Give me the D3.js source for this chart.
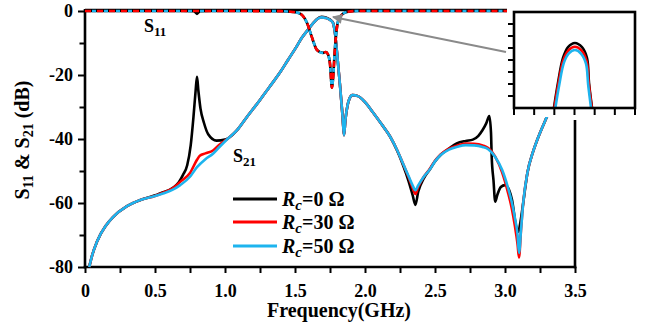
<!DOCTYPE html>
<html><head><meta charset="utf-8">
<script src="https://cdn.jsdelivr.net/npm/d3@7"></script>
<style>
html,body{margin:0;padding:0;background:#fff;}
svg{display:block;font-family:"Liberation Serif","Times New Roman",serif;font-weight:bold;}
</style></head><body>
<svg id="c" width="645" height="322" font-family="Liberation Serif, serif"></svg>
<script>
// ---------- data ----------
const xTickValues = [0, 0.5, 1.0, 1.5, 2.0, 2.5, 3.0, 3.5];
const xTickLabels = ["0", "0.5", "1.0", "1.5", "2.0", "2.5", "3.0", "3.5"];
const xMinorTicks = [0.25, 0.75, 1.25, 1.75, 2.25, 2.75, 3.25];
const yTickValues = [0, -20, -40, -60, -80];
const yTickLabels = ["0", "-20", "-40", "-60", "-80"];
const yMinorTicks = [-10, -30, -50, -70];
const legendValues = ["0", "30", "50"];
const seriesColors = ["#000000", "#ff0000", "#1db4ee"];

// S21 (dB) vs frequency (GHz)
const s21_Rc50 = [[0.03,-80],[0.05,-76.5],[0.086,-72],[0.15,-67],[0.2,-64.4],[0.3,-61],[0.4,-59],[0.5,-57.8],[0.557,-57],[0.62,-56],[0.68,-54.4],[0.75,-51.8],[0.8,-48.8],[0.86,-46.3],[0.914,-44.6],[0.96,-42.5],[1.01,-40.3],[1.086,-37.2],[1.15,-33.5],[1.25,-27.8],[1.32,-23.6],[1.39,-19.4],[1.45,-15.3],[1.51,-11.2],[1.55,-8.3],[1.59,-6],[1.63,-3.8],[1.66,-2.5],[1.69,-2.0],[1.72,-2.2],[1.75,-2.8],[1.77,-3.6],[1.786,-7],[1.8,-13],[1.82,-22.5],[1.84,-33],[1.85,-38.8],[1.86,-34],[1.875,-29.5],[1.89,-27.3],[1.91,-26.3],[1.95,-26.6],[2.0,-28.5],[2.06,-31.9],[2.12,-35.5],[2.18,-39.3],[2.23,-43.5],[2.27,-47.5],[2.31,-51.5],[2.34,-54.5],[2.36,-56],[2.38,-54.5],[2.42,-51.8],[2.46,-49.7],[2.5,-47],[2.54,-45],[2.6,-43.3],[2.66,-42.4],[2.72,-41.9],[2.78,-42],[2.84,-42.5],[2.88,-43.2],[2.93,-45.6],[2.98,-49.7],[3.02,-55],[3.05,-60],[3.07,-64.5],[3.09,-70],[3.1,-75.6],[3.115,-68],[3.13,-60],[3.16,-50.6],[3.2,-44],[3.23,-40.3],[3.3,-33],[3.36,-26.9],[3.42,-21],[3.5,-15]];
const s21_Rc30 = [[0.03,-80],[0.05,-76.5],[0.086,-72],[0.15,-67],[0.2,-64.4],[0.3,-61],[0.4,-59],[0.5,-57.8],[0.557,-56.8],[0.62,-55.6],[0.68,-53.4],[0.75,-50.6],[0.8,-46.5],[0.82,-45.2],[0.86,-44.5],[0.914,-43.6],[0.96,-41.8],[1.01,-40.2],[1.086,-37.2],[1.15,-33.5],[1.25,-27.8],[1.32,-23.6],[1.39,-19.4],[1.45,-15.3],[1.51,-11.2],[1.55,-8.3],[1.59,-6],[1.63,-3.8],[1.66,-2.5],[1.69,-2.0],[1.72,-2.2],[1.75,-2.8],[1.77,-3.6],[1.786,-7],[1.8,-13],[1.82,-22.5],[1.84,-33],[1.85,-38.8],[1.86,-34],[1.875,-29.5],[1.89,-27.3],[1.91,-26.3],[1.95,-26.6],[2.0,-28.5],[2.06,-31.9],[2.12,-35.5],[2.18,-39.3],[2.23,-43.5],[2.27,-47.5],[2.31,-51.8],[2.34,-55.2],[2.36,-57.2],[2.38,-55],[2.42,-51.8],[2.46,-49.5],[2.5,-46.8],[2.54,-44.8],[2.6,-43],[2.66,-42],[2.72,-41.4],[2.78,-41.5],[2.84,-42],[2.88,-42.8],[2.93,-45.5],[2.98,-50.5],[3.02,-56.5],[3.05,-62],[3.07,-67],[3.09,-73],[3.1,-77],[3.115,-68],[3.13,-60],[3.16,-50.6],[3.2,-44],[3.23,-40.3],[3.3,-33],[3.36,-26.9],[3.42,-21],[3.5,-15]];
const s21_Rc0 = [[0.03,-80],[0.05,-76.5],[0.086,-72],[0.15,-67],[0.2,-64.4],[0.3,-61],[0.4,-59],[0.5,-57.6],[0.557,-56.6],[0.6,-56],[0.63,-55.2],[0.67,-53.5],[0.7,-51.2],[0.73,-48.2],[0.755,-42],[0.775,-33],[0.79,-25],[0.8,-20.6],[0.81,-25],[0.825,-30.5],[0.85,-35],[0.88,-38.5],[0.94,-40.5],[1.0,-40.2],[1.05,-38.8],[1.086,-37.2],[1.15,-33.5],[1.25,-27.8],[1.32,-23.6],[1.39,-19.4],[1.45,-15.3],[1.51,-11.2],[1.55,-8.3],[1.59,-6],[1.63,-3.8],[1.66,-2.4],[1.69,-1.8],[1.72,-2.0],[1.75,-2.7],[1.77,-3.5],[1.786,-7],[1.8,-13],[1.82,-22.5],[1.84,-33],[1.85,-38.8],[1.86,-34],[1.875,-29.5],[1.89,-27.3],[1.91,-26.3],[1.95,-26.6],[2.0,-28.5],[2.06,-31.9],[2.12,-35.5],[2.18,-39.3],[2.23,-43.7],[2.27,-48],[2.31,-53],[2.34,-57.5],[2.36,-60.6],[2.38,-56.5],[2.42,-52.3],[2.46,-49.7],[2.5,-47],[2.54,-45],[2.6,-43],[2.655,-41.4],[2.72,-40.6],[2.77,-40.2],[2.81,-39],[2.84,-37.2],[2.865,-35.2],[2.888,-32.8],[2.9,-38],[2.905,-45.5],[2.918,-53],[2.93,-59.6],[2.945,-57.5],[2.97,-55],[3.0,-54.4],[3.03,-56],[3.05,-59],[3.08,-67.4],[3.095,-69],[3.11,-66],[3.13,-60],[3.16,-50.6],[3.2,-44],[3.23,-40.3],[3.3,-33],[3.36,-26.9],[3.42,-21],[3.5,-15]];

// S11 (dB) vs frequency (GHz)
const s11_Rc0 = [[0,0],[0.7,0],[0.78,-0.1],[0.8,-0.9],[0.82,-0.1],[0.9,0],[1.4,-0.05],[1.486,-0.3],[1.536,-0.8],[1.586,-3.75],[1.62,-8.1],[1.657,-12.2],[1.7,-13.1],[1.72,-12.8],[1.736,-13.6],[1.75,-16.5],[1.764,-24],[1.771,-21.5],[1.786,-11.25],[1.8,-5],[1.82,-1.9],[1.87,-0.3],[1.95,0],[3.5,0]];
const s11_Rc30 = [[0,0],[0.7,0],[1.4,-0.05],[1.486,-0.3],[1.536,-0.8],[1.586,-3.75],[1.62,-8.1],[1.657,-12.2],[1.7,-13.1],[1.72,-12.8],[1.736,-13.6],[1.75,-16.5],[1.764,-24],[1.771,-21.5],[1.786,-11.25],[1.8,-5],[1.82,-1.9],[1.87,-0.3],[1.95,0],[3.5,0]];
const s11_Rc50 = [[0,0],[0.7,0],[1.4,-0.05],[1.486,-0.3],[1.536,-0.8],[1.586,-3.75],[1.62,-8.1],[1.657,-12.2],[1.7,-13.1],[1.72,-12.8],[1.736,-13.6],[1.75,-16.5],[1.764,-24],[1.771,-21.5],[1.786,-11.25],[1.8,-5],[1.82,-1.9],[1.87,-0.3],[1.95,0],[3.5,0]];

// inset: zoom of S21 passband top (arbitrary units, 6 x-divisions, 8 y-divisions)
const insetTicksX = [0,1,2,3,4,5,6];
const insetTicksY = [1,2,3,4,5,6,7];
const inset_Rc0  = [[1.98,0],[2.18,2.08],[2.43,4.17],[2.68,5.08],[3.02,5.42],[3.37,5.08],[3.62,4.17],[3.72,2.08],[3.87,0]];
const inset_Rc30 = [[2.0,0],[2.2,2.0],[2.45,4.0],[2.7,4.8],[3.02,5.1],[3.35,4.78],[3.6,3.9],[3.71,2.0],[3.86,0]];
const inset_Rc50 = [[2.05,0],[2.24,1.9],[2.48,3.8],[2.72,4.55],[3.02,4.83],[3.33,4.52],[3.57,3.7],[3.68,1.9],[3.82,0]];

// ---------- drawing ----------
const FONT = "Liberation Serif, Times New Roman, serif";
const svg = d3.select("#c");
const x = d3.scaleLinear().domain([0, 3.5]).range([85, 575]);
const y = d3.scaleLinear().domain([-80, 0]).range([267, 11]);
const AX = 2.6;

// axes
const xAxis = d3.axisBottom(x).tickValues([...xTickValues, ...xMinorTicks].sort((a,b)=>a-b))
  .tickSize(6).tickSizeOuter(0)
  .tickFormat(d => { const i = xTickValues.indexOf(d); return i >= 0 ? xTickLabels[i] : ""; });
const gx = svg.append("g").attr("transform", `translate(0,${y(-80)})`).call(xAxis).attr("font-family", FONT);
gx.select(".domain").attr("stroke-width", AX).attr("d", `M${x(0)-1.3},0H${x(3.5)+1.3}`);
gx.selectAll(".tick line").attr("stroke-width", 2);
gx.selectAll(".tick text").attr("font-size", 18).attr("font-family", FONT)
  .attr("font-weight", "bold").attr("fill", "#000").attr("y", 17).attr("dy", "0.71em");

const yAxis = d3.axisLeft(y).tickValues([...yTickValues, ...yMinorTicks])
  .tickSize(7).tickSizeOuter(0)
  .tickFormat(d => { const i = yTickValues.indexOf(d); return i >= 0 ? yTickLabels[i] : ""; });
const gy = svg.append("g").attr("transform", `translate(${x(0)},0)`).call(yAxis).attr("font-family", FONT);
gy.select(".domain").attr("stroke-width", AX).attr("d", `M0,${y(0)-2}V${y(-80)+1.3}`);
gy.selectAll(".tick line").attr("stroke-width", 2);
gy.selectAll(".tick").filter(d => yMinorTicks.includes(d)).select("line").attr("x2", -5.5);
gy.selectAll(".tick text").attr("font-size", 18).attr("font-family", FONT)
  .attr("font-weight", "bold").attr("fill", "#000").attr("x", -12);

// top frame line and right frame line
svg.append("line").attr("x1", x(0)).attr("x2", x(3.5)).attr("y1", y(0)-1).attr("y2", y(0)-1)
  .attr("stroke", "#000").attr("stroke-width", AX);

// curves
const line = d3.line().x(d => x(d[0])).y(d => y(d[1])).curve(d3.curveMonotoneX);
const s21 = [s21_Rc0, s21_Rc30, s21_Rc50];
s21.forEach((s, i) => {
  svg.append("path").attr("d", line(s)).attr("fill", "none")
    .attr("stroke", seriesColors[i]).attr("stroke-width", 2.6).attr("stroke-linejoin", "round");
});
// S11: black solid, red and blue dashed on top
svg.append("path").attr("d", line(s11_Rc0)).attr("fill", "none").attr("stroke", seriesColors[0]).attr("stroke-width", 2.6);
svg.append("path").attr("d", line(s11_Rc30)).attr("fill", "none").attr("stroke", seriesColors[1])
  .attr("stroke-width", 2.6).attr("stroke-dasharray", "6 6");
svg.append("path").attr("d", line(s11_Rc50)).attr("fill", "none").attr("stroke", seriesColors[2])
  .attr("stroke-width", 2.6).attr("stroke-dasharray", "4 8").attr("stroke-dashoffset", -7);

// labels S11 / S21
function sLabel(tx, ty, sub) {
  const t = svg.append("text").attr("x", tx).attr("y", ty).attr("font-size", 18).attr("fill", "#000").attr("font-family", FONT);
  t.append("tspan").text("S");
  t.append("tspan").attr("font-size", 13).attr("dy", 4).text(sub);
}
sLabel(144, 32, "11");
sLabel(233, 162, "21");

// axis titles
svg.append("text").attr("x", 339).attr("y", 317).attr("text-anchor", "middle").attr("font-family", FONT)
  .attr("font-size", 20).attr("fill", "#000").text("Frequency(GHz)");
const yt = svg.append("text").attr("transform", "translate(29,140) rotate(-90)").attr("font-family", FONT)
  .attr("text-anchor", "middle").attr("font-size", 20).attr("fill", "#000");
yt.append("tspan").text("S");
yt.append("tspan").attr("font-size", 14).attr("dy", 4).text("11");
yt.append("tspan").attr("dy", -4).text(" & S");
yt.append("tspan").attr("font-size", 14).attr("dy", 4).text("21");
yt.append("tspan").attr("dy", -4).text(" (dB)");

// legend
const legendY = [199, 222, 246];
legendValues.forEach((v, i) => {
  svg.append("line").attr("x1", 233).attr("x2", 277).attr("y1", legendY[i]).attr("y2", legendY[i])
    .attr("stroke", seriesColors[i]).attr("stroke-width", 3);
  const t = svg.append("text").attr("x", 282).attr("y", legendY[i] + 7).attr("font-size", 20).attr("fill", "#000").attr("font-family", FONT);
  t.append("tspan").attr("font-style", "italic").text("R");
  t.append("tspan").attr("font-style", "italic").attr("font-size", 15).attr("dy", 4).text("c");
  t.append("tspan").attr("dy", -4).text("=" + v + " \u03A9");
});

// arrow
svg.append("defs").append("marker").attr("id", "ah").attr("viewBox", "0 0 10 10")
  .attr("refX", 9).attr("refY", 5).attr("markerWidth", 6).attr("markerHeight", 5)
  .attr("markerUnits", "strokeWidth").attr("orient", "auto")
  .append("path").attr("d", "M0,0L10,5L0,10z").attr("fill", "#8a8a8a");
svg.append("line").attr("x1", 506).attr("y1", 52).attr("x2", 333).attr("y2", 17)
  .attr("stroke", "#8a8a8a").attr("stroke-width", 2).attr("marker-end", "url(#ah)");

// inset
svg.append("rect").attr("x", 507).attr("y", 0).attr("width", 138).attr("height", 117).attr("fill", "#fff");
const ix = d3.scaleLinear().domain([0, 6]).range([514, 635]);
const iy = d3.scaleLinear().domain([0, 8]).range([108, 12]);
const ig = svg.append("g");
const iline = d3.line().x(d => ix(d[0])).y(d => iy(d[1])).curve(d3.curveCatmullRom.alpha(0.5));
[inset_Rc0, inset_Rc30, inset_Rc50].forEach((s, i) => {
  ig.append("path").attr("d", iline(s)).attr("fill", "none").attr("stroke", seriesColors[i]).attr("stroke-width", 2.6);
});
ig.append("rect").attr("x", ix(0)).attr("y", iy(8)).attr("width", ix(6) - ix(0)).attr("height", iy(0) - iy(8))
  .attr("fill", "none").attr("stroke", "#000").attr("stroke-width", AX);
insetTicksX.forEach(t => ig.append("line").attr("x1", ix(t)).attr("x2", ix(t)).attr("y1", iy(0)).attr("y2", iy(0) + 7)
  .attr("stroke", "#000").attr("stroke-width", 2));
insetTicksY.forEach(t => ig.append("line").attr("x1", ix(0)).attr("x2", ix(0) - 6).attr("y1", iy(t)).attr("y2", iy(t))
  .attr("stroke", "#000").attr("stroke-width", 2));

// right axis visible below inset
svg.append("line").attr("x1", x(3.5)).attr("x2", x(3.5)).attr("y1", 120).attr("y2", y(-80) + 1.3)
  .attr("stroke", "#000").attr("stroke-width", AX);
</script>
</body></html>
